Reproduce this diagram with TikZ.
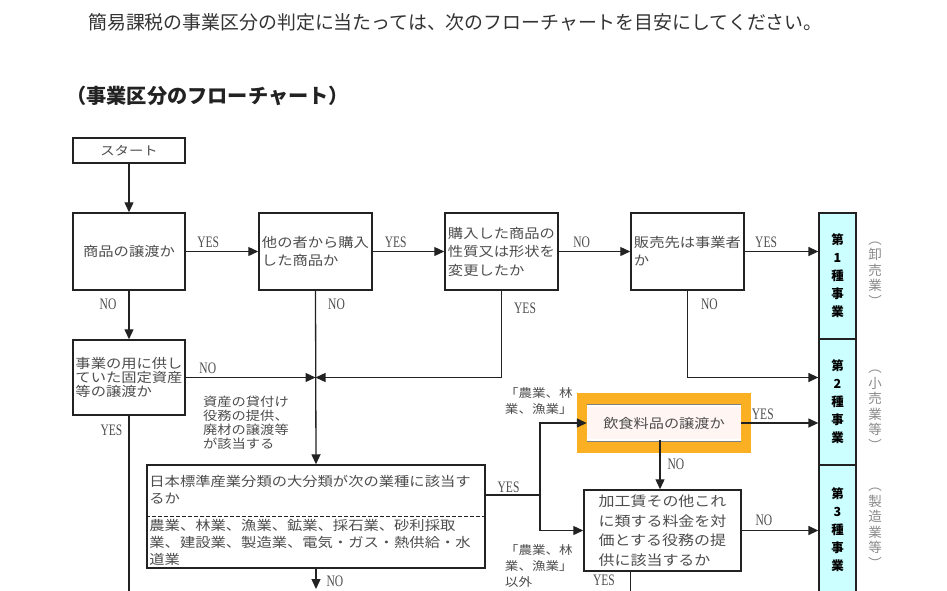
\documentclass[tikz,border=0pt]{standalone}
\usepackage{fontspec}
\usepackage{xcolor}
\usepackage{tikz}
\usetikzlibrary{arrows.meta,positioning,calc}
\newfontfamily\jpfont[FakeStretch=1.15]{Noto Sans CJK JP}
\newfontfamily\jpsans{Noto Sans CJK JP}
\newfontfamily\ynfont[FakeStretch=0.72]{Liberation Serif}
\definecolor{ink}{HTML}{222222}
\definecolor{txt}{HTML}{4D4D4D}
\definecolor{headtxt}{HTML}{333333}
\definecolor{sidetxt}{HTML}{8A8A8A}
\definecolor{catfill}{HTML}{CCFFFF}
\definecolor{orangehl}{HTML}{FAB022}
\definecolor{foodfill}{HTML}{FFF5F2}
\tikzset{%
   box/.style={
      draw=ink,
      line width=1.5pt,
      inner sep=0pt,
      align=left,
      text=txt,
      font=\jpfont\fontsize{13.3}{18}\selectfont
   },
   cat/.style={
      draw=ink,
      line width=1.3pt,
      fill=catfill,
      minimum width=37pt,
      minimum height=126pt,
      inner sep=0pt,
      align=center,
      font=\jpsans\bfseries\fontsize{12.5}{18}\selectfont
   },
   side/.style={
      align=center,
      text=sidetxt,
      inner sep=0pt,
      font=\jpsans\fontsize{13.5}{15.5}\selectfont
   },
   note/.style={
      align=left,
      text=txt,
      inner sep=0pt,
      font=\jpfont\fontsize{12.4}{14}\selectfont
   },
   hl/.style={
      fill=orangehl,
      minimum width=174pt,
      minimum height=60pt,
      inner sep=0pt
   },
   food/.style={
      fill=foodfill,
      minimum width=154pt,
      minimum height=34pt,
      inner sep=0pt,
      text=txt,
      font=\jpfont\fontsize{13.2}{16}\selectfont
   },
   dbl/.style={
      draw=gray,
      line width=.6pt,
      double=white,
      double distance=2pt
   },
   yn/.style={
      text=txt,
      inner sep=1pt,
      font=\ynfont\fontsize{16}{16}\selectfont
   },
   arr/.style={
      draw=ink,
      line width=1.3pt,
      -{Triangle[length=10pt,width=9pt]}
   },
   ln/.style={
      draw=ink,
      line width=1.3pt
   },
}

\begin{document}
\begin{tikzpicture}[x=1pt, y=-1pt]
   \useasboundingbox (0,0) rectangle (947,590);
   \clip (0,0) rectangle (947,590);
   \node[anchor=west, inner sep=0pt, text=headtxt, font=\jpsans\fontsize{18.9}{22}\selectfont] (hd) at (88,22) {簡易課税の事業区分の判定に当たっては、次のフローチャートを目安にしてください。};
   \node[anchor=west, inner sep=0pt, text=ink, font=\jpsans\bfseries\fontsize{20.2}{22}\selectfont] (ttl) at (66,96) {（事業区分のフローチャート）};

   \node[box, minimum width=112pt, minimum height=25pt, font=\jpfont\fontsize{12.5}{14}\selectfont] (s0) at (129,150.5) {スタート};
   \node[box, minimum width=112pt, minimum height=77pt] (q1) at (129,251.5) {商品の譲渡か};
   \node[box, minimum width=113pt, minimum height=77pt] (q2) at (315.5,251.5) {他の者から購入\\した商品か};
   \node[box, minimum width=113pt, minimum height=77pt, font=\jpfont\fontsize{13.3}{18.5}\selectfont] (q3) at (501.5,251.5) {購入した商品の\\性質又は形状を\\変更したか};
   \node[box, minimum width=113pt, minimum height=77pt] (q4) at (687.5,251.5) {販売先は事業者\\か};
   \node[box, minimum width=112pt, minimum height=75pt, font=\jpfont\fontsize{13.3}{14}\selectfont] (q5) at (129,377.5) {事業の用に供し\\ていた固定資産\\等の譲渡か};
   \node[box, minimum width=338pt, minimum height=103pt] (q6) at (316,516.5) {};
   \node[note, anchor=north west, font=\jpfont\fontsize{13.3}{17}\selectfont] (q6a) at ([xshift=3pt,yshift=-11pt]q6.north west) {日本標準産業分類の大分類が次の業種に該当す\\るか};
   \node[note, anchor=north west, font=\jpfont\fontsize{13.3}{17}\selectfont] (q6b) at ([xshift=3pt,yshift=-3pt]q6.west) {農業、林業、漁業、鉱業、採石業、砂利採取\\業、建設業、製造業、電気・ガス・熱供給・水\\道業};
   \draw[ink, line width=1.1pt, dash pattern=on 4pt off 2pt] (q6.west) -- (q6.east);

   \node[hl] (hl) at (664,423) {};
   \node[food] (q7) at (664,423) {飲食料品の譲渡か};
   \draw[dbl] (q7.north west) -- (q7.north east);
   \draw[dbl] (q7.south west) -- (q7.south east);
   \node[box, minimum width=157pt, minimum height=81pt, font=\jpfont\fontsize{13.9}{19.5}\selectfont] (q8) at (662.5,530.5) {加工賃その他これ\\に類する料金を対\\価とする役務の提\\供に該当するか};

   \node[cat] (c1) at (837.5,276) {第\\1\\種\\事\\業};
   \node[cat] (c2) at (837.5,402) {第\\2\\種\\事\\業};
   \node[cat, minimum height=130pt] (c3) at (837.5,530) {第\\3\\種\\事\\業};
   \node[side] (k1) at (875,274) {︵\\卸\\売\\業\\︶};
   \node[side] (k2) at (875,410) {︵\\小\\売\\業\\等\\︶};
   \node[side] (k3) at (875,528) {︵\\製\\造\\業\\等\\︶};

   \node[note, anchor=north west] (m1) at (203,396) {資産の貸付け\\役務の提供、\\廃材の譲渡等\\が該当する};
   \node[note, anchor=north east, font=\jpfont\fontsize{11.8}{16}\selectfont] (m2) at (573,387) {「農業、林\\業、漁業」};
   \node[note, anchor=north east, font=\jpfont\fontsize{11.8}{16}\selectfont] (m3) at (573,544) {「農業、林\\業、漁業」\\以外};

   \coordinate (j0) at (q2.south |- q5.east);
   \coordinate (j1) at (540,495);
   \coordinate (e1) at (129,600);
   \coordinate (e2) at ([xshift=-32pt]q8.south |- e1);
   \coordinate (e3) at (316,589);

   \path (s0) edge[arr] (q1);
   \path (q1) edge[arr] node[yn, above=2pt, pos=.31] {YES} (q2);
   \path (q2) edge[arr] node[yn, above=2pt, pos=.32] {YES} (q3);
   \path (q3) edge[arr] node[yn, above=2pt, pos=.32] {NO} (q4);
   \draw[arr] (q4) -- node[yn, above=2pt, pos=.29] {YES} (q4 -| c1.west);
   \path (q1) edge[arr] node[yn, left=11pt, pos=.28] {NO} (q5);
   \draw[arr] (q2.south) -- node[yn, right=11pt, pos=.08] {NO} (q6.north);
   \draw[arr] (q5) -- node[yn, above=2pt, pos=.17] {NO} (j0);
   \draw[arr] (q3.south) |- node[yn, right=11pt, pos=.1] {YES} (j0);
   \draw[arr] (q4.south) |- node[yn, right=12pt, pos=.08] {NO} (j0 -| c2.west);
   \draw[ln] (q5) -- node[yn, left=5pt, pos=.08] {YES} (e1);
   \draw[arr] (q6.south) -- node[yn, right=9pt, pos=.6] {NO} (e3);
   \draw[ln] (j1 -| q6.east) -- node[yn, above=1pt, pos=.42] {YES} (j1);
   \draw[arr] (j1) |- (q7.west);
   \draw[arr] (j1) |- (q8.west);
   \draw[arr] (q7) -- node[yn, above=2pt, pos=.28] {YES} (q7 -| c2.west);
   \draw[arr] ([xshift=-4pt]q7.south) -- node[yn, right=6pt, pos=.5] {NO} ([xshift=-4pt]q7.south |- q8.north);
   \draw[arr] (q8) -- node[yn, above=3pt, pos=.29] {NO} (q8 -| c3.west);
   \draw[ln] ([xshift=-32pt]q8.south) -- node[yn, left=14pt, pos=.3] {YES} (e2);
\end{tikzpicture}
\end{document}
